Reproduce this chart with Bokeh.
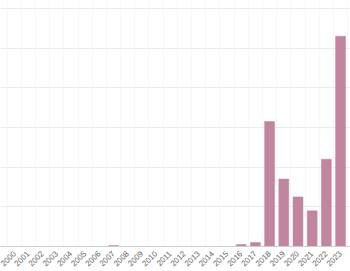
import math
from bokeh.plotting import figure
from bokeh.models import Range1d, FixedTicker
from bokeh.embed import file_html
from bokeh.resources import INLINE

years = list(range(2000, 2024))
values = [0, 0, 0, 0, 0, 0, 0, 0.5, 0, 0, 0, 0, 0, 0, 0, 0, 1, 2, 63, 34, 25, 18, 44, 106]
tick_labels = [str(y) for y in years]
grid_values = [0, 20, 40, 60, 80, 100, 120]

p = figure(width=350, height=271, output_backend="svg", toolbar_location=None,
           x_range=Range1d(years[0] - 0.965, years[-1] + 0.70),
           y_range=Range1d(0, 124),
           min_border_left=0, min_border_right=0, min_border_top=0, min_border_bottom=0)
p.outline_line_color = None
p.background_fill_color = "white"
p.border_fill_color = "white"

p.vbar(x=years, top=values, width=0.7, bottom=0,
       fill_color="#c0869f", line_color="#c0869f", line_width=0.5)

p.yaxis.visible = False
p.xaxis.ticker = FixedTicker(ticks=years)
p.xaxis.major_label_overrides = {y: t for y, t in zip(years, tick_labels)}
p.xaxis.major_label_orientation = math.pi / 4
p.xaxis.major_label_text_font = "Liberation Sans"
p.xaxis.major_label_text_font_size = "8px"
p.xaxis.major_label_text_color = "#666666"
p.xaxis.major_tick_line_color = None
p.xaxis.minor_tick_line_color = None
p.xaxis.axis_line_color = "#cccccc"
p.xaxis.major_label_standoff = 0

p.ygrid.ticker = FixedTicker(ticks=grid_values)
p.ygrid.grid_line_color = "#ebebeb"
p.xgrid.ticker = FixedTicker(ticks=[y - 0.5 for y in years] + [years[-1] + 0.5])
p.xgrid.grid_line_color = "#f7f7f7"

open("out.html", "w").write(file_html(p, INLINE))
